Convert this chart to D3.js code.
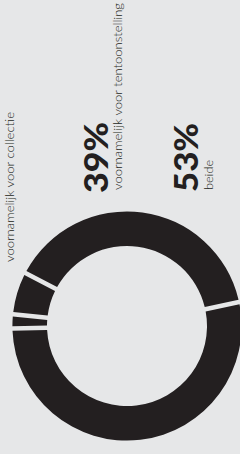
<!DOCTYPE html>
<html>
<head>
<meta charset="utf-8">
<script src="https://cdn.jsdelivr.net/npm/d3@7"></script>
<style>
  html, body { margin: 0; padding: 0; background: #e6e7e8; }
  svg { display: block; }
</style>
</head>
<body>
<div id="chart"></div>
<script>
// slices, clockwise from the right-hand gap
var categories = ["beide", "overig", "voornamelijk voor collectie", "voornamelijk voor tentoonstelling"]
var values     = [53, 2, 6, 39]

var width  = 240,
    height = 454

var bg   = "#e6e7e8",
    ink  = "#231f20"

var cx = 127, cy = 326,
    outerR = 114.6, innerR = 80

var svg = d3.select("#chart").append("svg")
    .attr("width", width)
    .attr("height", height)

svg.append("rect")
   .attr("width", width)
   .attr("height", height)
   .attr("fill", bg)

var pie = d3.pie()
    .sort(null)
    .value(function (d) { return d.value })
    .startAngle(77.9 * Math.PI / 180)
    .endAngle(77.9 * Math.PI / 180 + 2 * Math.PI)

var arc = d3.arc()
    .innerRadius(innerR)
    .outerRadius(outerR)
    .padRadius(100)
    .padAngle(0.045)

var data = values.map(function (v, i) { return { name: categories[i], value: v } })

svg.append("g")
   .attr("transform", "translate(" + cx + "," + cy + ")")
   .selectAll("path")
   .data(pie(data))
   .join("path")
   .attr("fill", ink)
   .attr("d", arc)

// labels, all written bottom-to-top
var font = "Lato, 'Noto Sans', sans-serif"

function label (x, y, text, size, weight, len) {
  svg.append("text")
     .attr("transform", "translate(" + x + "," + y + ") rotate(-90)")
     .attr("font-family", font)
     .attr("font-size", size)
     .attr("font-weight", weight)
     .attr("fill", ink)
     .attr("textLength", len)
     .attr("lengthAdjust", "spacingAndGlyphs")
     .text(text)
}

// big percentages
label(108, 193, values[3] + "%", 32, 900, 71)
label(198, 192, values[0] + "%", 32, 900, 69)

// category names
label(121.5, 190, categories[3], 11.5, 300, 187)
label(213, 190, categories[0], 11.5, 300, 30)
label(14, 262, categories[2], 11.5, 300, 150)
</script>
</body>
</html>
